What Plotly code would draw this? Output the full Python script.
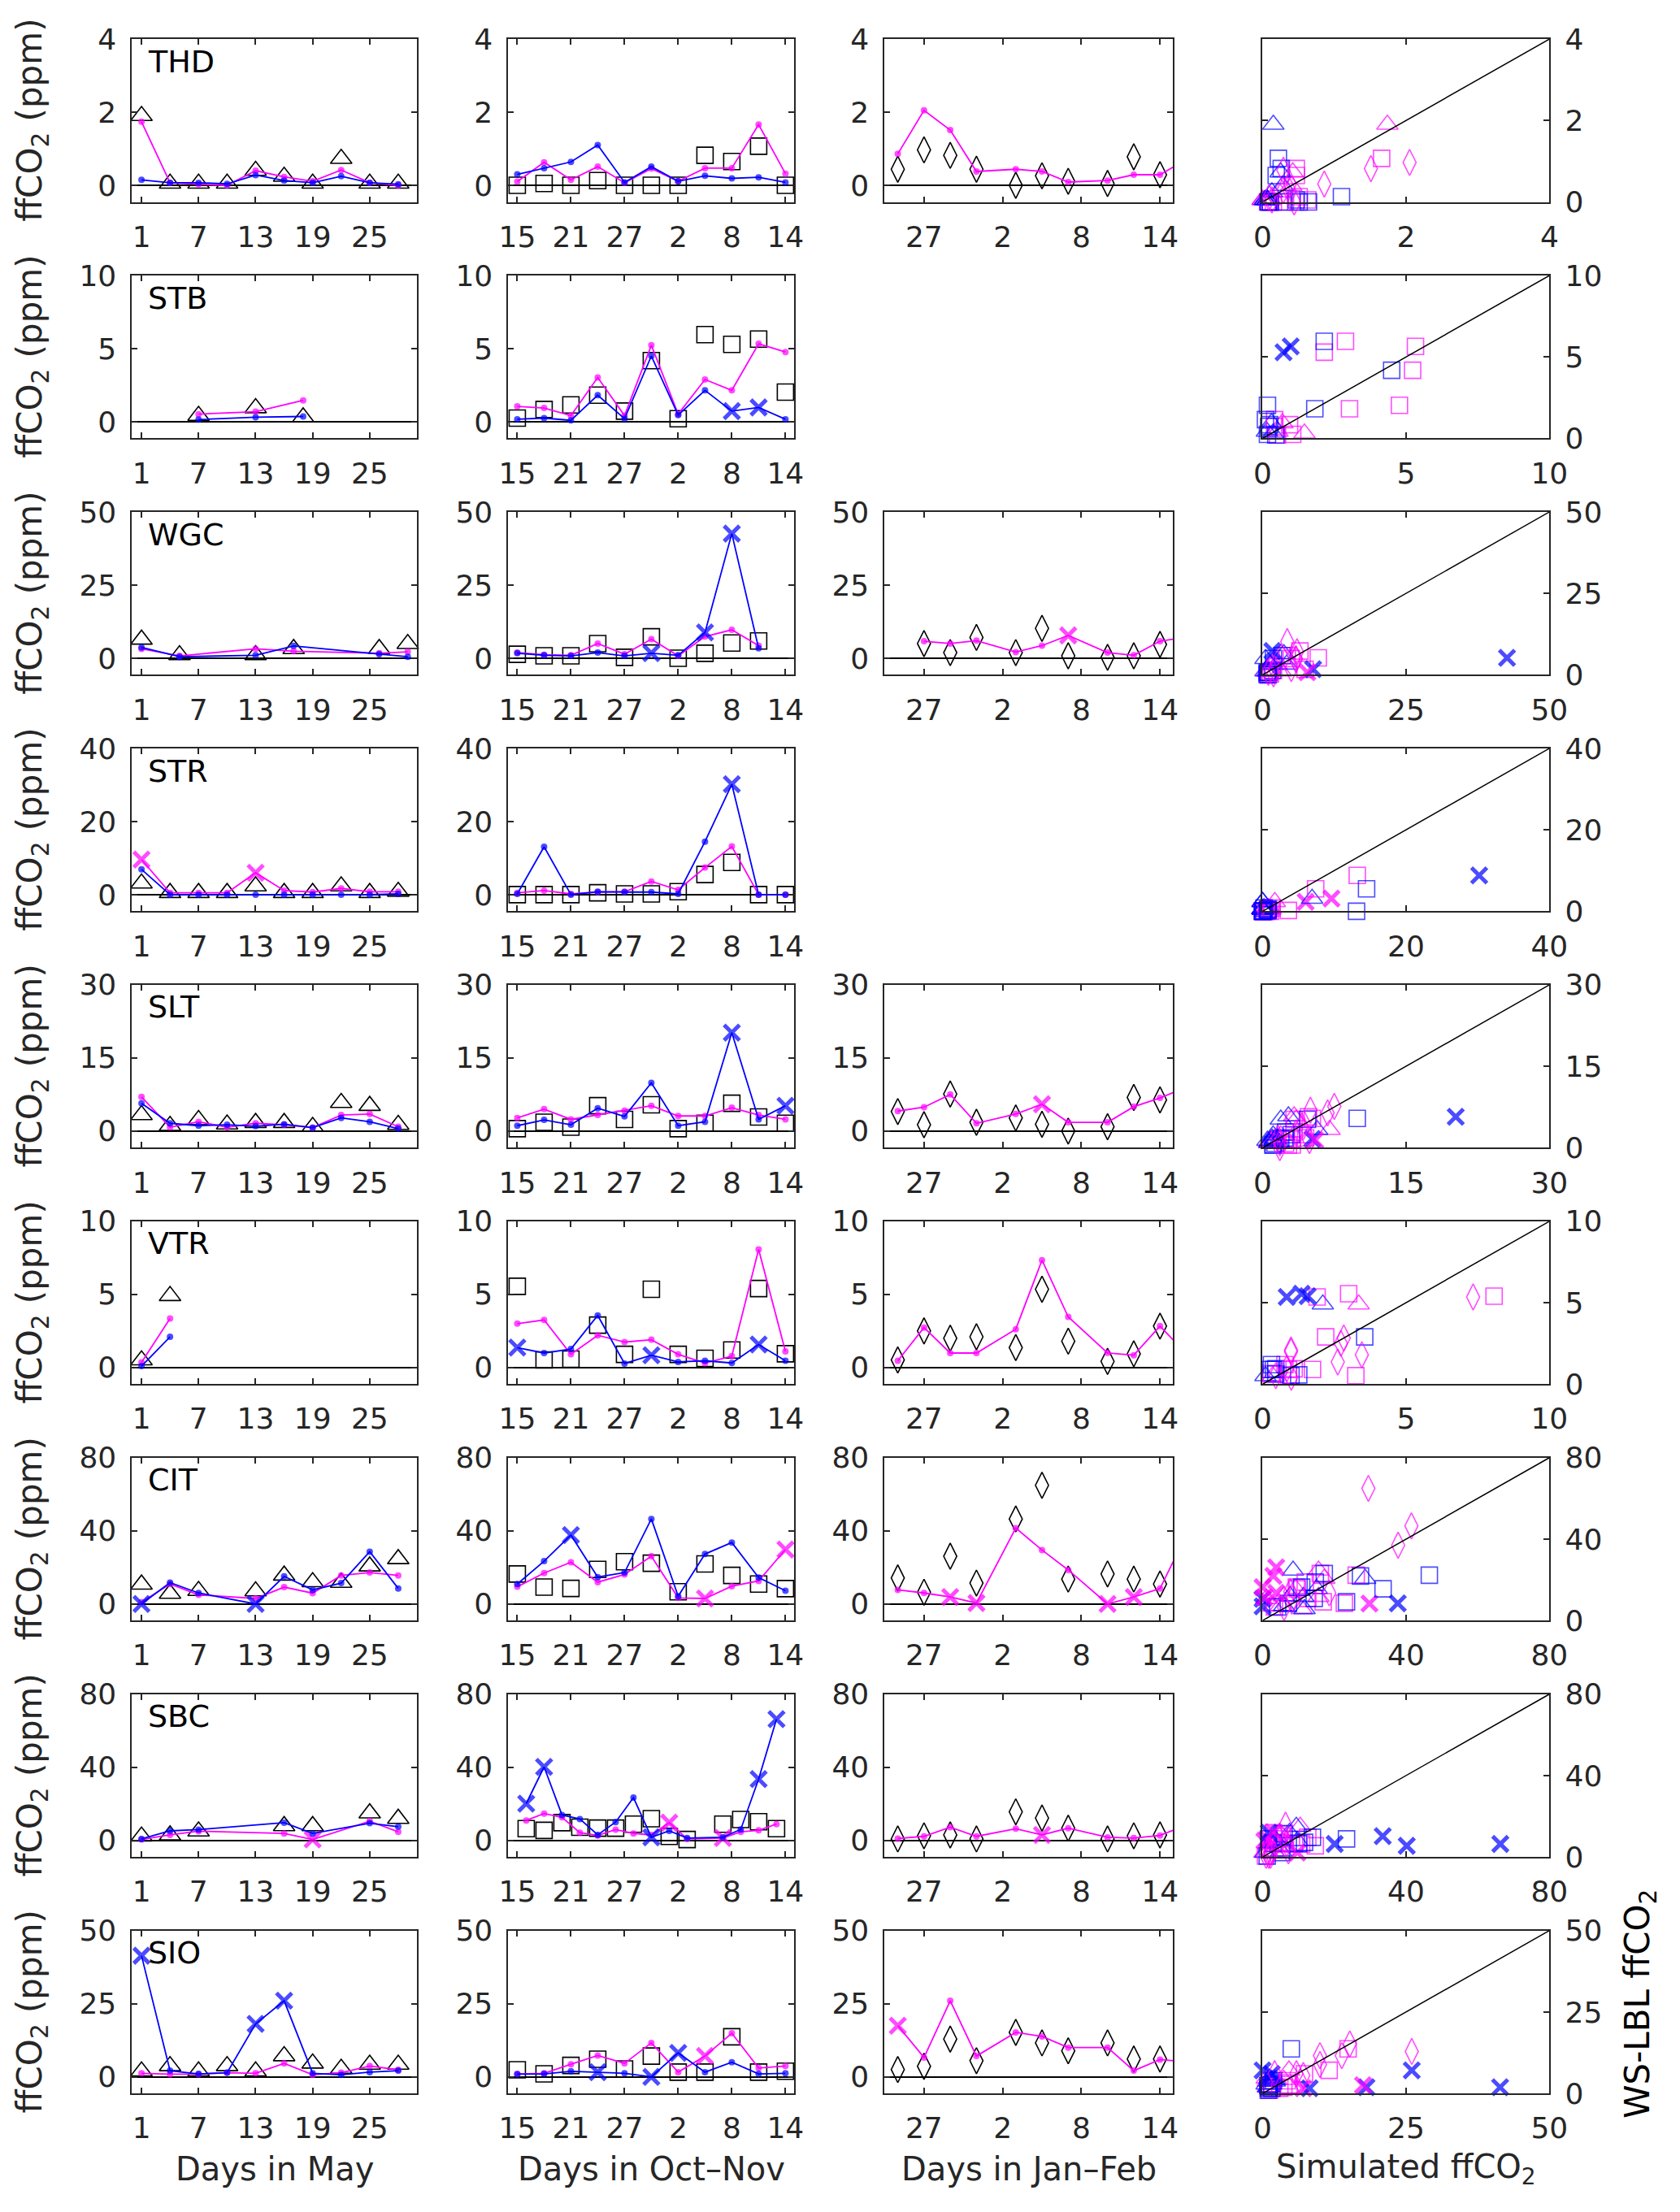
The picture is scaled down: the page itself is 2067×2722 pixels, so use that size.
import plotly.graph_objects as go

W, H = 2067, 2722
FONT = "DejaVu Sans"
AX = "#262626"
BLUE = "#0000FF"
MAG = "#FF00FF"

STATIONS = ["THD", "STB", "WGC", "STR", "SLT", "VTR", "CIT", "SBC", "SIO"]
YMAX = [4, 10, 50, 40, 30, 10, 80, 80, 50]

DAYS_MAY = [1, 4, 7, 10, 13, 16, 19, 22, 25, 28]
DAYS_ON = [15, 18, 21, 24, 27, 30, 33, 36, 39, 42, 45]
DAYS_JF = [25, 27, 29, 31, 34, 36, 38, 41, 43, 45, 47]

# ---------------- THD ----------------
THD_may_day = DAYS_MAY
THD_may_obs = [1.9, 0.05, 0.05, 0.05, 0.4, 0.24, 0.05, 0.73, 0.05, 0.05]
THD_may_mag = [1.74, 0.07, 0.03, 0.0, 0.4, 0.23, 0.11, 0.42, 0.07, 0.0]
THD_may_blu = [0.15, 0.07, 0.07, 0.04, 0.28, 0.13, 0.07, 0.25, 0.07, 0.03]
THD_on_day = DAYS_ON
THD_on_obs = [0.0, 0.05, 0.0, 0.13, 0.0, 0.0, 0.0, 0.82, 0.65, 1.07, 0.0]
THD_on_mag = [0.1, 0.63, 0.15, 0.51, 0.07, 0.46, 0.11, 0.47, 0.47, 1.66, 0.32]
THD_on_blu = [0.3, 0.47, 0.64, 1.1, 0.08, 0.51, 0.11, 0.26, 0.19, 0.22, 0.08]
THD_jf_day = DAYS_JF
THD_jf_obs = [0.44, 0.97, 0.82, 0.44, 0.0, 0.26, 0.11, 0.05, 0.78, 0.29, None]
THD_jf_mag = [0.86, 2.05, 1.51, 0.38, 0.44, 0.38, 0.09, 0.13, 0.29, 0.29, 0.71]

# ---------------- STB ----------------
STB_may_day = [7, 13, 18]
STB_may_obs = [0.42, 0.94, 0.31]
STB_may_mag = [0.52, 0.69, 1.46]
STB_may_blu = [0.15, 0.31, 0.36]
STB_on_day = DAYS_ON
STB_on_obs = [0.25, 0.84, 1.15, 1.82, 0.73, 4.18, 0.21, 5.96, 5.29, 5.65, 2.03]
STB_on_mag = [1.05, 0.94, 0.42, 3.03, 0.42, 5.23, 0.52, 2.89, 2.15, 5.33, 4.77]
STB_on_blu = [0.17, 0.25, 0.1, 1.82, 0.21, 4.5, 0.46, 2.15, 0.73, 0.98, 0.17]
STB_on_blu_x = [39, 42]

# ---------------- WGC ----------------
WGC_may_day = [1, 5, 13, 17, 26, 29]
WGC_may_obs = [6.4, 1.1, 1.1, 3.2, 3.2, 4.9]
WGC_may_mag = [3.2, 0.8, 3.2, 2.4, 1.7, 2.2]
WGC_may_blu = [3.7, 0.5, 1.0, 4.2, 1.4, 0.5]
WGC_on_day = [15, 18, 21, 24, 27, 30, 33, 36, 39, 42]
WGC_on_obs = [1.35, 0.8, 0.8, 5.0, 0.3, 7.3, 0.0, 1.7, 5.2, 5.9]
WGC_on_mag = [1.9, 1.2, 1.0, 5.0, 1.35, 6.5, 0.8, 7.4, 9.7, 4.3]
WGC_on_blu = [1.7, 1.0, 0.8, 1.9, 0.8, 1.7, 1.0, 8.8, 42.6, 3.4]
WGC_on_blu_x = [30, 36, 39]
WGC_jf_day = [27, 29, 31, 34, 36, 38, 41, 43, 45, 47]
WGC_jf_obs = [5.0, 1.9, 7.1, 1.9, 10.2, 0.8, 0.3, 0.8, 4.7, None]
WGC_jf_mag = [5.8, 5.0, 6.0, 2.1, 4.3, 7.8, 1.9, 1.0, 5.8, 7.2]
WGC_jf_mag_x = [38]

# ---------------- STR ----------------
STR_may_day = DAYS_MAY
STR_may_obs = [3.1, 0.5, 0.5, 0.5, 2.3, 0.5, 0.5, 2.3, 0.5, 0.8]
STR_may_mag = [9.6, 0.5, 0.5, 0.5, 6.0, 1.1, 0.7, 1.7, 0.8, 0.8]
STR_may_blu = [6.9, 0.0, 0.0, 0.0, 0.0, 0.0, 0.0, 0.0, 0.0, 0.2]
STR_may_mag_x = [1, 13]
STR_on_day = DAYS_ON
STR_on_obs = [0.0, 0.0, 0.0, 0.5, 0.2, 0.2, 0.8, 5.5, 8.8, 0.0, 0.0]
STR_on_mag = [0.5, 1.1, 0.2, 0.7, 0.8, 3.6, 1.3, 7.4, 13.2, 0.0, 0.0]
STR_on_blu = [0.2, 13.1, 0.0, 0.8, 0.7, 0.7, 0.2, 14.5, 30.2, 0.0, 0.0]
STR_on_blu_x = [39]

# ---------------- SLT ----------------
SLT_may_day = DAYS_MAY
SLT_may_obs = [3.3, 1.1, 2.3, 1.4, 1.7, 1.7, 0.9, 5.8, 5.2, 1.3]
SLT_may_mag = [7.0, 0.8, 1.9, 0.8, 1.6, 1.3, 0.7, 3.3, 3.5, 0.9]
SLT_may_blu = [5.7, 1.6, 1.1, 1.3, 1.0, 1.4, 0.7, 2.7, 1.9, 0.5]
SLT_on_day = DAYS_ON
SLT_on_obs = [0.5, 1.8, 0.8, 5.2, 2.4, 5.4, 0.5, 1.6, 5.7, 2.9, 1.6]
SLT_on_mag = [2.7, 4.5, 2.4, 3.3, 4.2, 5.2, 3.1, 3.1, 4.8, 3.3, 2.4]
SLT_on_blu = [1.1, 2.3, 1.3, 4.7, 3.0, 9.9, 1.1, 1.9, 20.2, 2.4, 5.2]
SLT_on_blu_x = [39, 45]
SLT_jf_day = DAYS_JF
SLT_jf_obs = [4.0, 1.3, 7.6, 1.8, 2.7, 1.4, 0.0, 0.9, 6.9, 6.4, None]
SLT_jf_mag = [4.1, 4.9, 7.5, 1.6, 3.5, 5.5, 1.8, 1.8, 5.0, 6.8, 9.0]
SLT_jf_mag_x = [36]

# ---------------- VTR ----------------
VTR_may_day = [1, 4]
VTR_may_obs = [0.5, 4.9]
VTR_may_mag = [0.35, 3.35]
VTR_may_blu = [0.1, 2.1]
VTR_on_day = DAYS_ON
VTR_on_obs = [5.55, 0.52, 0.57, 2.9, 0.9, 5.35, 0.9, 0.63, 1.2, 5.4, 0.94]
VTR_on_mag = [3.0, 3.25, 0.9, 2.2, 1.74, 1.9, 0.9, 0.3, 0.78, 8.07, 1.1]
VTR_on_blu = [1.36, 0.99, 1.26, 3.56, 0.27, 0.84, 0.38, 0.46, 0.31, 1.57, 0.46]
VTR_on_blu_x = [15, 30, 42]
VTR_jf_day = DAYS_JF
VTR_jf_obs = [0.52, 2.5, 2.0, 2.1, 1.36, 5.35, 1.8, 0.42, 0.94, 2.83, None]
VTR_jf_mag = [0.46, 2.73, 0.99, 0.99, 2.62, 7.34, 3.46, 1.0, 0.84, 2.83, 0.95]

# ---------------- CIT ----------------
CIT_may_day = [1, 4, 7, 13, 16, 19, 22, 25, 28]
CIT_may_obs = [10.7, 5.7, 7.2, 7.0, 15.6, 12.0, 11.7, 20.6, 24.6]
CIT_may_mag = [1.0, 10.9, 5.0, 3.0, 9.2, 5.9, 15.6, 17.2, 15.6]
CIT_may_blu = [0.0, 11.7, 6.0, 0.0, 15.1, 7.7, 11.4, 28.6, 8.5]
CIT_may_blu_x = [1, 13]
CIT_on_day = DAYS_ON
CIT_on_obs = [16.4, 9.2, 8.5, 18.9, 23.1, 22.3, 6.7, 21.9, 15.6, 10.9, 8.4]
CIT_on_mag = [9.4, 16.9, 22.8, 11.9, 16.1, 26.1, 3.3, 3.0, 9.7, 12.6, 29.8]
CIT_on_blu = [10.9, 23.4, 37.7, 14.7, 17.2, 46.5, 4.2, 27.3, 33.6, 14.4, 7.2]
CIT_on_blu_x = [21]
CIT_on_mag_x = [36, 45]
CIT_jf_day = DAYS_JF
CIT_jf_obs = [14.2, 6.4, 26.1, 11.4, 46.5, 64.9, 13.6, 16.4, 13.6, 10.9, 37.0]
CIT_jf_mag = [7.7, 6.0, 3.8, 0.5, 41.5, 29.5, 18.6, 0.0, 3.8, 8.4, 37.8]
CIT_jf_mag_x = [29, 31, 41, 43]

# ---------------- SBC ----------------
SBC_may_day = [1, 4, 7, 16, 19, 25, 28]
SBC_may_obs = [2.2, 2.8, 5.0, 7.9, 7.9, 14.9, 11.9]
SBC_may_mag = [0.5, 3.0, 5.0, 3.8, 0.5, 10.5, 4.7]
SBC_may_blu = [0.8, 5.2, 5.9, 9.7, 3.8, 9.4, 7.5]
SBC_may_mag_x = [19]
SBC_on_day = [16, 18, 20, 22, 24, 26, 28, 30, 32, 34, 38, 40, 42, 44]
SBC_on_obs = [6.4, 5.5, 9.7, 7.2, 6.7, 6.7, 8.9, 11.9, 2.2, 0.5, 8.9, 11.4, 10.2, 6.4]
SBC_on_mag = [10.9, 14.7, 12.6, 4.2, 2.7, 5.9, 3.8, 3.0, 9.7, 0.8, 1.3, 4.7, 5.5, 8.9]
SBC_on_blu = [20.1, 40.2, 13.9, 11.7, 3.0, 10.0, 23.4, 1.7, 5.2, 1.3, 1.7, 6.0, 33.5, 66.3]
SBC_on_blu_x = [16, 18, 30, 42, 44]
SBC_on_mag_x = [32, 38]
SBC_jf_day = DAYS_JF
SBC_jf_obs = [0.8, 2.5, 3.0, 0.8, 15.6, 12.2, 6.7, 0.8, 2.5, 3.0, None]
SBC_jf_mag = [1.0, 2.2, 7.2, 2.2, 6.4, 3.0, 6.7, 1.7, 1.3, 2.7, 8.3]
SBC_jf_mag_x = [36]

# ---------------- SIO ----------------
SIO_may_day = DAYS_MAY
SIO_may_obs = [1.9, 3.7, 1.9, 3.7, 1.9, 7.1, 4.6, 2.8, 4.2, 4.2]
SIO_may_mag = [1.2, 0.9, 0.9, 1.4, 1.2, 4.6, 0.7, 1.4, 3.7, 2.4]
SIO_may_blu = [41.4, 2.1, 1.0, 1.4, 18.1, 26.0, 1.2, 0.7, 1.6, 2.1]
SIO_may_blu_x = [1, 13, 16]
SIO_on_day = DAYS_ON
SIO_on_obs = [2.4, 1.0, 3.9, 6.0, 2.7, 7.1, 1.6, 1.6, 13.7, 1.6, 1.9]
SIO_on_mag = [1.0, 1.2, 4.3, 7.3, 4.6, 11.6, 1.6, 7.1, 14.9, 3.0, 3.7]
SIO_on_blu = [0.9, 1.0, 1.9, 1.6, 1.2, 0.0, 8.2, 1.6, 5.0, 1.0, 1.2]
SIO_on_blu_x = [24, 30, 33]
SIO_on_mag_x = [36]
SIO_jf_day = DAYS_JF
SIO_jf_obs = [2.5, 3.6, 12.9, 5.5, 15.2, 11.6, 8.9, 11.6, 6.1, 6.1, None]
SIO_jf_mag = [17.5, 6.6, 26.0, 7.1, 15.2, 13.8, 10.0, 10.0, 2.1, 5.9, 5.1]
SIO_jf_mag_x = [25]

# ---------------- panel settings ----------------
PERIODS = [
    dict(key="may", rng=[0, 30], tv=[1, 7, 13, 19, 25], tt=["1", "7", "13", "19", "25"],
         sym="triangle-up-open", size=23, label="Days in May"),
    dict(key="on", rng=[14, 46], tv=[15, 21, 27, 33, 39, 45], tt=["15", "21", "27", "2", "8", "14"],
         sym="square-open", size=20, label="Days in Oct\u2013Nov"),
    dict(key="jf", rng=[24, 46], tv=[27, 33, 39, 45], tt=["27", "2", "8", "14"],
         sym="diamond-tall-open", size=23, label="Days in Jan\u2013Feb"),
]

COL_PX = [(153, 510), (624, 982), (1095, 1456), (1568, 1927)]
ROW_TOP0, ROW_PITCH, ROW_H = 28.5, 295.4, 203.5


def get(name):
    return globals().get(name)


def axis_style():
    return dict(showline=True, linecolor=AX, linewidth=2, mirror="ticks", ticks="inside",
                ticklen=7, tickwidth=2, tickcolor=AX, showgrid=False, zeroline=False,
                tickfont=dict(family=FONT, size=36, color=AX), ticklabelstandoff=10)


fig = go.Figure()
layout = {}
annotations = []


def sim_marker(days, flags, color, open_sym=None, open_size=None):
    flags = flags or []
    syms, sizes, widths = [], [], []
    for d in days:
        if d in flags:
            syms.append("x-thin"); sizes.append(19); widths.append(5)
        else:
            if open_sym is None:
                syms.append("circle"); sizes.append(8); widths.append(0)
            else:
                syms.append(open_sym); sizes.append(open_size); widths.append(1.6)
    return dict(symbol=syms, size=sizes, color=color, line=dict(width=widths, color=color))


for r, st in enumerate(STATIONS):
    ym = YMAX[r]
    top = ROW_TOP0 + ROW_PITCH * r
    bot = top + ROW_H
    ydom = [1 - bot / H, 1 - top / H]
    for c in range(4):
        n = r * 4 + c + 1
        if c < 3 and get(f"{st}_{PERIODS[c]['key']}_day") is None:
            continue
        xa = f"x{n}"
        ya = f"y{n}"
        xname = "xaxis" if n == 1 else f"xaxis{n}"
        yname = "yaxis" if n == 1 else f"yaxis{n}"
        x0, x1 = COL_PX[c]
        xs = axis_style()
        ys = axis_style()
        xs.update(domain=[x0 / W, x1 / W], anchor=ya)
        ys.update(domain=ydom, anchor=xa, tickvals=[0, ym // 2, ym],
                  ticktext=[str(v) for v in (0, ym // 2, ym)])
        if c < 3:
            p = PERIODS[c]
            xs.update(range=p["rng"], tickvals=p["tv"], ticktext=p["tt"])
            ys.update(range=[-ym / 8.8, ym], zeroline=True, zerolinecolor="black", zerolinewidth=2)
            days = get(f"{st}_{p['key']}_day")
            obs = get(f"{st}_{p['key']}_obs")
            fig.add_trace(go.Scatter(
                x=days, y=obs, mode="markers", xaxis=xa, yaxis=ya, showlegend=False,
                cliponaxis=False,
                marker=dict(symbol=p["sym"], size=p["size"], color="black",
                            line=dict(width=1.6, color="black"))))
            for model, color in (("mag", MAG), ("blu", BLUE)):
                vals = get(f"{st}_{p['key']}_{model}")
                if vals is None:
                    continue
                flags = get(f"{st}_{p['key']}_{model}_x")
                fig.add_trace(go.Scatter(
                    x=days, y=vals, mode="lines+markers", xaxis=xa, yaxis=ya, showlegend=False,
                    cliponaxis=(c == 2), line=dict(color=color, width=1.8),
                    marker=sim_marker(days, flags, color)))
        else:
            xs.update(range=[0, ym], tickvals=[0, ym // 2, ym],
                      ticktext=[str(v) for v in (0, ym // 2, ym)])
            ys.update(range=[0, ym], side="right")
            for p in PERIODS:
                days = get(f"{st}_{p['key']}_day")
                if days is None:
                    continue
                obs = get(f"{st}_{p['key']}_obs")
                for model, color in (("mag", MAG), ("blu", BLUE)):
                    vals = get(f"{st}_{p['key']}_{model}")
                    if vals is None:
                        continue
                    flags = get(f"{st}_{p['key']}_{model}_x")
                    fig.add_trace(go.Scatter(
                        x=vals, y=obs, mode="markers", xaxis=xa, yaxis=ya, showlegend=False,
                        cliponaxis=False,
                        marker=sim_marker(days, flags, color, p["sym"], p["size"])))
            fig.add_trace(go.Scatter(
                x=[0, ym], y=[0, ym], mode="lines", xaxis=xa, yaxis=ya, showlegend=False,
                line=dict(color="black", width=1.5)))
        layout[xname] = xs
        layout[yname] = ys

    # station label
    annotations.append(dict(text=st, xref="paper", yref="paper", x=171 / W, y=1 - (top + 28) / H,
                            xanchor="left", yanchor="middle", showarrow=False,
                            font=dict(family=FONT, size=38, color="black")))
    # y label
    annotations.append(dict(text="ffCO<sub>2</sub> (ppm)", xref="paper", yref="paper",
                            x=28 / W, y=1 - (top + ROW_H / 2) / H, xanchor="center",
                            yanchor="middle", textangle=-90, showarrow=False,
                            font=dict(family=FONT, size=42, color=AX)))

BOTTOM_LABELS = [p["label"] for p in PERIODS] + ["Simulated ffCO<sub>2</sub>"]
for c, txt in enumerate(BOTTOM_LABELS):
    x0, x1 = COL_PX[c]
    annotations.append(dict(text=txt, xref="paper", yref="paper", x=(x0 + x1) / 2 / W,
                            y=1 - 2690 / H, xanchor="center", yanchor="middle", showarrow=False,
                            font=dict(family=FONT, size=40, color=AX)))

annotations.append(dict(text="WS-LBL ffCO<sub>2</sub>", xref="paper", yref="paper",
                        x=2040 / W, y=1 - 2483 / H, xanchor="center", yanchor="middle",
                        textangle=-90, showarrow=False,
                        font=dict(family=FONT, size=42, color="black")))

fig.update_layout(width=W, height=H, margin=dict(l=0, r=0, t=0, b=0), autosize=False,
                  paper_bgcolor="white", plot_bgcolor="white",
                  font=dict(family=FONT, color=AX), annotations=annotations, **layout)

POST = ("document.documentElement.style.margin='0';document.documentElement.style.padding='0';"
        "document.body.style.margin='0';document.body.style.padding='0';"
        "document.documentElement.style.overflow='hidden';document.body.style.overflow='hidden';"
        "var d=document.getElementById('{plot_id}');d.style.position='absolute';"
        "d.style.left='0px';d.style.top='0px';")

fig.write_html("out.html", config={"displayModeBar": False, "responsive": False},
               post_script=POST)
